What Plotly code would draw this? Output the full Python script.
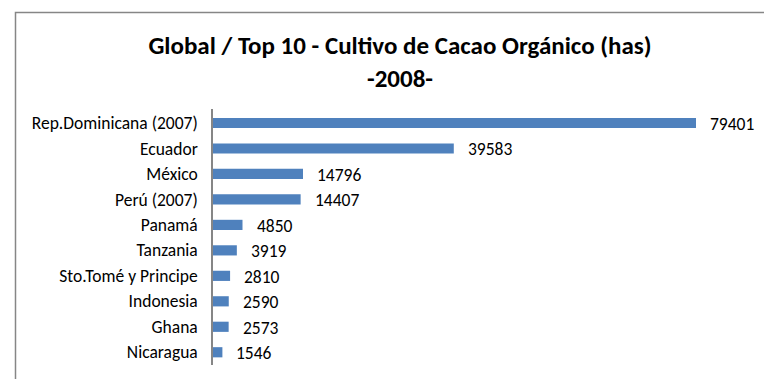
import plotly.graph_objects as go

# Organic cacao cultivation, top 10 countries (hectares)
paises = ["Rep.Dominicana (2007)", "Ecuador", "México", "Perú (2007)", "Panamá",
          "Tanzania", "Sto.Tomé y Principe", "Indonesia", "Ghana", "Nicaragua"]
hectareas = [79401, 39583, 14796, 14407, 4850, 3919, 2810, 2590, 2573, 1546]

W, H = 764, 379
ML, MR, MT, MB = 213, 4, 109, 14
plot_w = W - ML - MR
plot_h = H - MT - MB

font_family = "Carlito, Calibri, Lato, sans-serif"

fig = go.Figure(go.Bar(
    x=hectareas,
    y=paises,
    orientation="h",
    marker=dict(color="#4F81BD", line=dict(width=0)),
    width=0.4,
    hoverinfo="x+y",
))

# value labels to the right of each bar
for p, v in zip(paises, hectareas):
    fig.add_annotation(x=v, y=p, text=str(v), showarrow=False,
                       xanchor="left", yanchor="middle", xshift=12, yshift=-1,
                       font=dict(family=font_family, size=17.5, color="#000000"))

# chart-area border (left and top edges visible)
bx = (15.5 - ML) / plot_w
by = 1 + (MT - 12.5) / plot_h
fig.add_shape(type="rect", xref="paper", yref="paper",
              x0=bx, x1=1.5, y0=-0.5, y1=by,
              line=dict(color="#868686", width=1.5), layer="below")

fig.update_layout(
    width=W, height=H,
    margin=dict(l=ML, r=MR, t=MT, b=MB),
    paper_bgcolor="white", plot_bgcolor="white",
    showlegend=False,
    bargap=0.6,
    title=dict(
        text="<b>Global / Top 10 - Cultivo de Cacao Orgánico (has)</b><br><b>-2008-</b>",
        x=400 / W, xref="container", xanchor="center",
        y=1 - 54 / H, yref="container", yanchor="top",
        font=dict(family=font_family, size=25, color="#000000"),
    ),
    xaxis=dict(range=[0, 79401 * plot_w / 483.0], visible=False, fixedrange=True),
    yaxis=dict(
        categoryorder="array", categoryarray=paises, autorange="reversed",
        showline=True, linecolor="#868686", linewidth=1.5,
        ticks="", ticklabelstandoff=10, showgrid=False, zeroline=False,
        tickfont=dict(family=font_family, size=17.5, color="#000000"),
    ),
)

fig.write_html("out.html")
